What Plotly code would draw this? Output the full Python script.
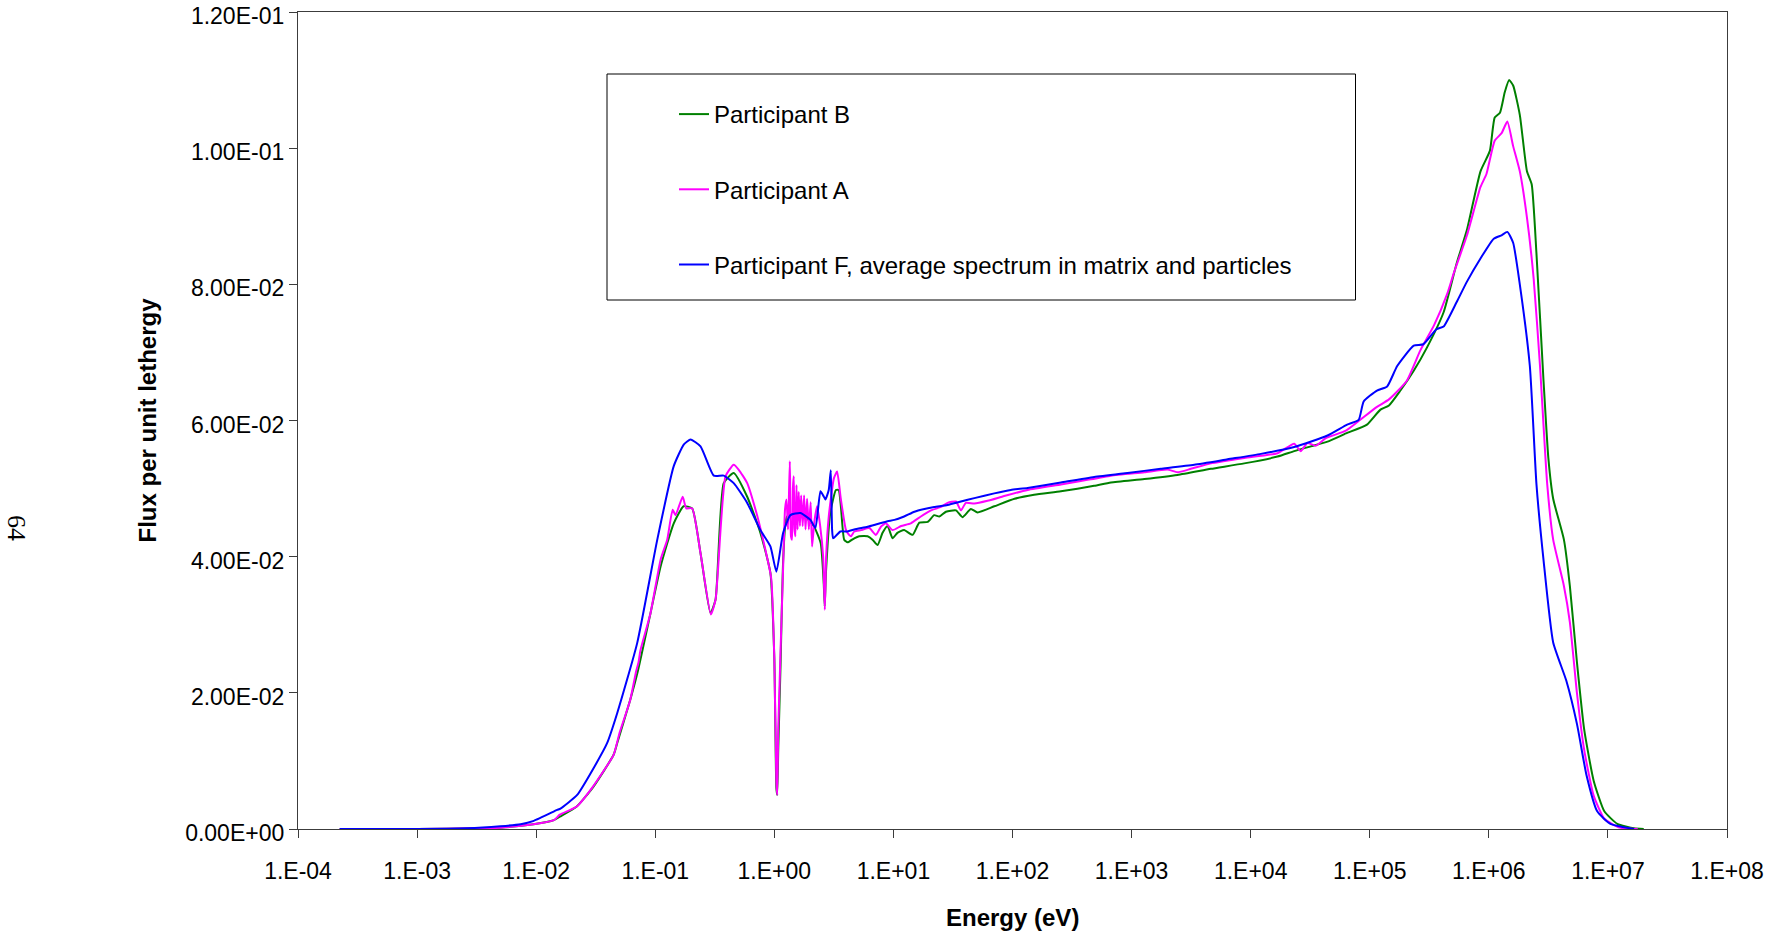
import plotly.graph_objects as go

# Neutron flux per unit lethargy vs energy for three participants

energy_b = [2.24e-4, 1.0e-3, 3.16e-3, 5.0e-3, 9.5e-3, 1.41e-2, 1.58e-2, 2.19e-2, 3.02e-2, 4.47e-2,
            4.79e-2, 6.17e-2, 7.08e-2, 9.12e-2, 0.111, 0.143, 0.173, 0.204, 0.240, 0.291,
            0.321, 0.376, 0.456, 0.592, 0.764, 0.927, 1.0, 1.04, 1.057, 1.08,
            1.127, 1.19, 1.28, 1.66, 2.14, 2.45, 2.60, 2.65, 2.72, 2.95,
            3.29, 3.47, 3.62, 3.86, 4.12, 4.69, 5.16, 6.07, 6.68, 7.36,
            8.11, 8.93, 9.84, 10.8, 12.3, 14.5, 16.5, 19.4, 22.0, 24.3,
            27.6, 33.5, 38.0, 44.7, 50.9, 70.3, 104, 152, 255, 485,
            670, 1280, 2430, 4630, 8830, 1.68e4, 2.32e4, 3.2e4, 4.42e4, 6.31e4,
            9.48e4, 1.23e5, 1.45e5, 1.81e5, 2.34e5, 3.02e5, 4.17e5, 5.37e5, 6.55e5, 8.51e5,
            1.02e6, 1.12e6, 1.24e6, 1.36e6, 1.48e6, 1.60e6, 1.82e6, 2.09e6, 2.29e6, 2.51e6,
            2.88e6, 3.16e6, 3.47e6, 4.27e6, 4.79e6, 5.50e6, 6.31e6, 7.59e6, 9.33e6, 1.20e7,
            1.66e7, 2.0e7]
flux_b = [0.0, 0.0, 0.0001, 0.0002, 0.0007, 0.0013, 0.0018, 0.0033, 0.0062, 0.0109,
          0.0126, 0.0190, 0.0229, 0.0317, 0.0386, 0.0449, 0.0474, 0.0471, 0.0405, 0.0317,
          0.0337, 0.0508, 0.0523, 0.0488, 0.0435, 0.0376, 0.0250, 0.0060, 0.0050, 0.0120,
          0.0239, 0.0400, 0.0459, 0.0464, 0.0445, 0.0420, 0.0360, 0.0327, 0.0380, 0.0464,
          0.0498, 0.0498, 0.0474, 0.0425, 0.0421, 0.0427, 0.0430, 0.0430, 0.0425, 0.0417,
          0.0435, 0.0445, 0.0427, 0.0435, 0.0439, 0.0432, 0.0450, 0.0451, 0.0461, 0.0459,
          0.0466, 0.0468, 0.0458, 0.0470, 0.0465, 0.0474, 0.0485, 0.0491, 0.0496, 0.0504,
          0.0509, 0.0514, 0.0520, 0.0529, 0.0537, 0.0547, 0.0555, 0.0562, 0.0569, 0.0581,
          0.0594, 0.0616, 0.0622, 0.0644, 0.0673, 0.0707, 0.0759, 0.0831, 0.0880, 0.0966,
          0.0996, 0.1045, 0.1052, 0.1082, 0.1100, 0.1092, 0.1049, 0.0966, 0.0947, 0.0846,
          0.0658, 0.0545, 0.0485, 0.0425, 0.0357, 0.0244, 0.0147, 0.0071, 0.0026, 0.00075,
          0.0001, 0.0]

energy_a = [2.24e-4, 1.0e-3, 3.16e-3, 5.0e-3, 9.5e-3, 1.41e-2, 1.58e-2, 2.19e-2, 3.02e-2, 4.47e-2,
            5.01e-2, 6.17e-2, 6.92e-2, 7.24e-2, 7.5e-2, 9.12e-2, 0.111, 0.126, 0.140, 0.148,
            0.170, 0.182, 0.204, 0.240, 0.293, 0.321, 0.389, 0.456, 0.501, 0.592,
            0.708, 0.804, 0.940, 1.0, 1.04, 1.057, 1.08, 1.186, 1.230, 1.265,
            1.303, 1.349, 1.380, 1.409, 1.432, 1.455, 1.479, 1.503, 1.535, 1.567,
            1.603, 1.641, 1.679, 1.730, 1.778, 1.828, 1.884, 1.950, 2.018, 2.075,
            2.163, 2.286, 2.427, 2.570, 2.655, 2.723, 2.864, 3.162, 3.365, 3.622,
            3.98, 4.12, 4.40, 4.69, 5.35, 6.27, 7.13, 7.85, 8.65, 9.84,
            11.6, 14.0, 17.0, 20.7, 25.1, 28.5, 33.5, 36.9, 40.6, 47.8,
            61.7, 85.1, 134, 255, 375, 670, 1280, 2000, 2430, 3150,
            4630, 8830, 1.68e4, 2.32e4, 2.63e4, 3.0e4, 3.52e4, 4.28e4, 6.31e4, 8.32e4,
            1.15e5, 1.45e5, 2.04e5, 2.66e5, 3.47e5, 4.47e5, 5.07e5, 6.55e5, 8.51e5, 9.55e5,
            1.12e6, 1.28e6, 1.43e6, 1.60e6, 1.82e6, 2.09e6, 2.38e6, 2.69e6, 3.09e6, 3.47e6,
            4.27e6, 4.79e6, 5.50e6, 6.31e6, 7.59e6, 9.33e6, 1.26e7, 1.78e7]
flux_a = [0.0, 0.0, 0.0001, 0.0002, 0.0007, 0.0013, 0.0021, 0.0033, 0.0063, 0.0109,
          0.0141, 0.0190, 0.0232, 0.0245, 0.0262, 0.0317, 0.0396, 0.0425, 0.0469, 0.0461,
          0.0488, 0.0471, 0.0471, 0.0405, 0.0315, 0.0337, 0.0518, 0.0535, 0.0528, 0.0508,
          0.0464, 0.0425, 0.0369, 0.0250, 0.0070, 0.0050, 0.0150, 0.0386, 0.0470, 0.0484,
          0.0440, 0.0540, 0.0430, 0.0425, 0.0500, 0.0518, 0.0440, 0.0430, 0.0505, 0.0440,
          0.0495, 0.0445, 0.0490, 0.0445, 0.0490, 0.0440, 0.0485, 0.0440, 0.0480, 0.0415,
          0.0450, 0.0474, 0.0445, 0.0400, 0.0322, 0.0400, 0.0459, 0.0515, 0.0525, 0.0484,
          0.0440, 0.0435, 0.0430, 0.0437, 0.0439, 0.0442, 0.0432, 0.0444, 0.0449, 0.0439,
          0.0445, 0.0449, 0.0459, 0.0468, 0.0473, 0.0479, 0.0481, 0.0468, 0.0479, 0.0478,
          0.0482, 0.0489, 0.0498, 0.0506, 0.0511, 0.0519, 0.0524, 0.0528, 0.0524, 0.0529,
          0.0537, 0.0545, 0.0552, 0.0566, 0.0555, 0.0567, 0.0563, 0.0574, 0.0585, 0.0601,
          0.0620, 0.0631, 0.0658, 0.0703, 0.0740, 0.0786, 0.0816, 0.0872, 0.0943, 0.0962,
          0.1011, 0.1022, 0.1039, 0.1003, 0.0966, 0.0898, 0.0808, 0.0680, 0.0507, 0.0425,
          0.0357, 0.0304, 0.0199, 0.0117, 0.0049, 0.0015, 0.0002, 0.0]

energy_f = [2.24e-4, 1.0e-3, 2.63e-3, 5.0e-3, 7.41e-3, 9.55e-3, 1.50e-2, 1.60e-2, 2.21e-2, 3.05e-2,
            3.94e-2, 4.79e-2, 7.05e-2, 0.104, 0.143, 0.174, 0.198, 0.240, 0.310, 0.376,
            0.456, 0.592, 0.764, 0.927, 1.04, 1.186, 1.365, 1.656, 2.01, 2.213,
            2.438, 2.57, 2.685, 2.864, 2.979, 3.055, 3.119, 3.589, 4.12, 4.69,
            6.07, 7.36, 8.93, 10.2, 12.3, 15.0, 18.2, 22.0, 28.5, 36.9,
            47.8, 70.3, 96.8, 134, 255, 485, 925, 1760, 3360, 6400,
            1.22e4, 2.32e4, 4.42e4, 6.46e4, 8.07e4, 8.89e4, 1.15e5, 1.40e5, 1.70e5, 2.34e5,
            2.82e5, 3.63e5, 4.17e5, 5.37e5, 6.55e5, 8.51e5, 1.10e6, 1.28e6, 1.43e6, 1.60e6,
            1.82e6, 2.21e6, 2.51e6, 2.88e6, 3.47e6, 4.47e6, 5.50e6, 6.61e6, 8.13e6, 1.05e7,
            1.66e7]
flux_f = [0.0, 0.0, 0.0001, 0.0004, 0.0007, 0.0012, 0.0028, 0.0030, 0.0050, 0.0090,
          0.0126, 0.0170, 0.0273, 0.0425, 0.0533, 0.0565, 0.0572, 0.0562, 0.0519, 0.0519,
          0.0508, 0.0479, 0.0439, 0.0415, 0.0378, 0.0435, 0.0461, 0.0464, 0.0454, 0.0442,
          0.0496, 0.0490, 0.0484, 0.0498, 0.0527, 0.0440, 0.0427, 0.0437, 0.0437, 0.0440,
          0.0444, 0.0448, 0.0452, 0.0454, 0.0459, 0.0466, 0.0470, 0.0473, 0.0476, 0.0481,
          0.0486, 0.0493, 0.0498, 0.0501, 0.0509, 0.0517, 0.0523, 0.0529, 0.0535, 0.0543,
          0.0551, 0.0561, 0.0578, 0.0594, 0.0601, 0.0628, 0.0644, 0.0650, 0.0680, 0.0710,
          0.0712, 0.0734, 0.0738, 0.0774, 0.0804, 0.0838, 0.0867, 0.0872, 0.0877, 0.0861,
          0.0800, 0.0680, 0.0507, 0.0395, 0.0274, 0.0218, 0.0154, 0.0079, 0.0026, 0.00075,
          0.0]

x_tickvals = [1e-4, 1e-3, 1e-2, 1e-1, 1e0, 1e1, 1e2, 1e3, 1e4, 1e5, 1e6, 1e7, 1e8]
x_ticktext = ["1.E-04", "1.E-03", "1.E-02", "1.E-01", "1.E+00", "1.E+01", "1.E+02",
              "1.E+03", "1.E+04", "1.E+05", "1.E+06", "1.E+07", "1.E+08"]
y_tickvals = [0.0, 0.02, 0.04, 0.06, 0.08, 0.10, 0.12]
y_ticktext = ["0.00E+00", "2.00E-02", "4.00E-02", "6.00E-02", "8.00E-02", "1.00E-01", "1.20E-01"]

series = [
    ("Participant B", energy_b, flux_b, "#008000"),
    ("Participant A", energy_a, flux_a, "#FF00FF"),
    ("Participant F, average spectrum in matrix and particles", energy_f, flux_f, "#0000FF"),
]

SANS = "Liberation Sans, Arial, sans-serif"
AXIS_COLOR = "#3c3c3c"

fig = go.Figure()
for name, xs, ys, color in series:
    fig.add_trace(go.Scatter(
        x=xs, y=ys, mode="lines", name=name, legendgroup=name,
        line=dict(color=color, width=2, shape="spline", smoothing=0.5),
    ))

W, H = 1780, 937
ML, MR, MT, MB = 298, 53, 12, 108
plot_w = W - ML - MR
plot_h = H - MT - MB


def px_x(px):
    return (px - ML) / plot_w


def px_y(py):
    return (H - MB - py) / plot_h


fig.update_layout(
    width=W, height=H,
    margin=dict(l=ML, r=MR, t=MT, b=MB, pad=0, autoexpand=False),
    paper_bgcolor="white", plot_bgcolor="white",
    font=dict(family=SANS, size=22, color="black"),
    showlegend=True,
    legend=dict(
        x=px_x(674), y=px_y(92), xanchor="left", yanchor="top",
        bgcolor="rgba(0,0,0,0)", borderwidth=0,
        font=dict(family=SANS, size=24, color="black"),
        tracegroupgap=41, traceorder="grouped",
    ),
    xaxis=dict(
        type="log", range=[-4, 8], automargin=False,
        tickmode="array", tickvals=x_tickvals, ticktext=x_ticktext,
        ticks="outside", ticklen=8, tickwidth=1, tickcolor=AXIS_COLOR,
        ticklabelstandoff=13, ticklabeloverflow="allow",
        showline=True, linecolor=AXIS_COLOR, linewidth=1.3, mirror=True,
        showgrid=False, zeroline=False,
        tickfont=dict(family=SANS, size=23, color="black"),
    ),
    yaxis=dict(
        range=[0, 0.12], automargin=False,
        tickmode="array", tickvals=y_tickvals, ticktext=y_ticktext,
        ticks="outside", ticklen=8, tickwidth=1, tickcolor=AXIS_COLOR,
        ticklabelstandoff=0, ticklabelshift=4, ticklabeloverflow="allow",
        showline=True, linecolor=AXIS_COLOR, linewidth=1.3, mirror=True,
        showgrid=False, zeroline=False,
        tickfont=dict(family=SANS, size=23, color="black"),
    ),
    shapes=[dict(
        type="rect", xref="paper", yref="paper",
        x0=px_x(607), x1=px_x(1355.5), y0=px_y(300), y1=px_y(74),
        line=dict(color="black", width=1), fillcolor="rgba(0,0,0,0)",
    )],
    annotations=[
        dict(text="<b>Energy (eV)</b>", xref="paper", yref="paper",
             x=0.5, y=0, xanchor="center", yanchor="middle", yshift=-88,
             showarrow=False, font=dict(family=SANS, size=24, color="black")),
        dict(text="<b>Flux per unit lethergy</b>", xref="paper", yref="paper",
             x=0, y=0.5, xanchor="center", yanchor="middle", xshift=147 - ML,
             textangle=-90, showarrow=False,
             font=dict(family=SANS, size=24, color="black")),
        dict(text="64", xref="paper", yref="paper",
             x=0, y=px_y(528), xanchor="center", yanchor="middle", xshift=17 - ML,
             textangle=90, showarrow=False,
             font=dict(family="Liberation Serif, Times New Roman, serif", size=26, color="black")),
    ],
)

fig.write_html("out.html")
